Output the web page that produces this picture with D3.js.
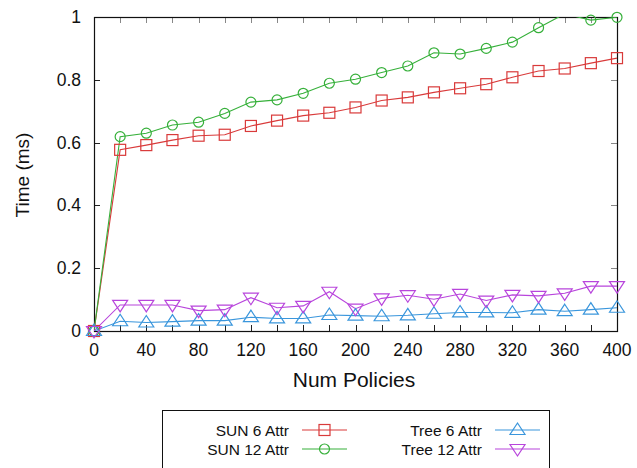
<!DOCTYPE html>
<html><head><meta charset="utf-8">
<script src="https://cdn.jsdelivr.net/npm/d3@7"></script>
<style>body{margin:0;background:#fff}svg{display:block}text{font-family:"Liberation Sans",Arial,sans-serif;fill:#111}</style>
</head><body>
<script>
const numPolicies = [0,20,40,60,80,100,120,140,160,180,200,220,240,260,280,300,320,340,360,380,400];
const sun6  = [0,0.577,0.592,0.608,0.622,0.625,0.653,0.670,0.686,0.695,0.712,0.734,0.744,0.760,0.773,0.786,0.808,0.828,0.836,0.853,0.869];
const sun12 = [0,0.619,0.630,0.656,0.665,0.693,0.729,0.736,0.757,0.789,0.802,0.823,0.844,0.886,0.882,0.900,0.920,0.966,1.01,0.99,0.999];
const tree6 = [0,0.031,0.027,0.030,0.033,0.033,0.044,0.040,0.040,0.051,0.049,0.047,0.050,0.055,0.059,0.059,0.058,0.068,0.063,0.068,0.074];
const tree12= [0,0.083,0.083,0.083,0.065,0.068,0.106,0.074,0.080,0.125,0.071,0.104,0.114,0.101,0.118,0.097,0.115,0.112,0.120,0.143,0.143];
const xTickLabels = [0,40,80,120,160,200,240,280,320,360,400];
const yTickLabels = [0,0.2,0.4,0.6,0.8,1];
const seriesNames = ["SUN 6 Attr","SUN 12 Attr","Tree 6 Attr","Tree 12 Attr"];
const seriesColors = ["#d93a3a","#36b03a","#3a96dc","#b845dc"];

const W=637,H=468;
const svg=d3.select("body").append("svg").attr("width",W).attr("height",H);
const x=d3.scaleLinear().domain([0,400]).range([94,617]);
const y=d3.scaleLinear().domain([0,1]).range([331,17]);

svg.append("defs").append("clipPath").attr("id","clip").append("rect")
  .attr("x",94).attr("y",17).attr("width",523).attr("height",314);

// ticks
const xt=d3.range(0,401,20);
const g=svg.append("g").attr("stroke","#222").attr("stroke-width",1);
xt.forEach(v=>{
  g.append("line").attr("x1",Math.round(x(v))+0.5).attr("x2",Math.round(x(v))+0.5).attr("y1",331).attr("y2",325);
  g.append("line").attr("x1",Math.round(x(v))+0.5).attr("x2",Math.round(x(v))+0.5).attr("y1",17).attr("y2",23).attr("stroke","#888");
});
yTickLabels.forEach(v=>{
  g.append("line").attr("x1",94).attr("x2",100).attr("y1",Math.round(y(v))+0.5).attr("y2",Math.round(y(v))+0.5);
  g.append("line").attr("x1",617).attr("x2",611).attr("y1",Math.round(y(v))+0.5).attr("y2",Math.round(y(v))+0.5).attr("stroke","#888");
});
svg.append("rect").attr("x",94.5).attr("y",17.5).attr("width",523).attr("height",314)
  .attr("fill","none").attr("stroke","#111").attr("stroke-width",1.2);

// tick labels
svg.append("g").selectAll("text").data(xTickLabels).join("text")
  .attr("x",d=>x(d)).attr("y",356).attr("text-anchor","middle").attr("font-size",17.5).text(d=>d);
svg.append("g").selectAll("text").data(yTickLabels).join("text")
  .attr("x",81).attr("y",d=>y(d)+6).attr("text-anchor","end").attr("font-size",17.5).text(d=>d);

svg.append("text").attr("x",354).attr("y",387).attr("text-anchor","middle").attr("font-size",21).text("Num Policies");
svg.append("text").attr("transform","translate(29,175) rotate(-90)").attr("text-anchor","middle").attr("font-size",19).text("Time (ms)");

// markers
function marker(sel,type,color){
  if(type===0) sel.append("rect").attr("x",-5.5).attr("y",-5.5).attr("width",11).attr("height",11);
  else if(type===1) sel.append("circle").attr("r",5);
  else if(type===2) sel.append("path").attr("d","M0,-7L7.5,4.5L-7.5,4.5Z");
  else sel.append("path").attr("d","M0,7L7.5,-4.5L-7.5,-4.5Z");
  sel.selectAll("*").attr("fill","none").attr("stroke",color).attr("stroke-width",1.2);
}
const allSeries=[sun6,sun12,tree6,tree12];
const line=d3.line().x((d,i)=>x(numPolicies[i])).y(d=>y(d));
allSeries.forEach((s,k)=>{
  svg.append("path").attr("d",line(s)).attr("fill","none").attr("stroke",seriesColors[k]).attr("stroke-width",1.1).attr("clip-path","url(#clip)");
});
allSeries.forEach((s,k)=>{
  s.forEach((v,i)=>{
    if(v>1.005) return;
    const m=svg.append("g").attr("transform",`translate(${x(numPolicies[i])},${y(v)})`);
    marker(m,k,seriesColors[k]);
  });
});

// legend
svg.append("rect").attr("x",162.5).attr("y",410.5).attr("width",387).attr("height",70)
  .attr("fill","none").attr("stroke","#111").attr("stroke-width",1);
const lg=[[289,302,347,430],[289,302,347,449],[482,495,540,430],[482,495,540,449]];
seriesNames.forEach((n,k)=>{
  const [tx,x1,x2,yy]=lg[k];
  svg.append("text").attr("x",tx).attr("y",yy+5.5).attr("text-anchor","end").attr("font-size",15.5).text(n);
  svg.append("line").attr("x1",x1).attr("x2",x2).attr("y1",yy).attr("y2",yy).attr("stroke",seriesColors[k]).attr("stroke-width",1.1);
  const m=svg.append("g").attr("transform",`translate(${(x1+x2)/2},${yy})`);
  marker(m,k,seriesColors[k]);
});
</script>
</body></html>
